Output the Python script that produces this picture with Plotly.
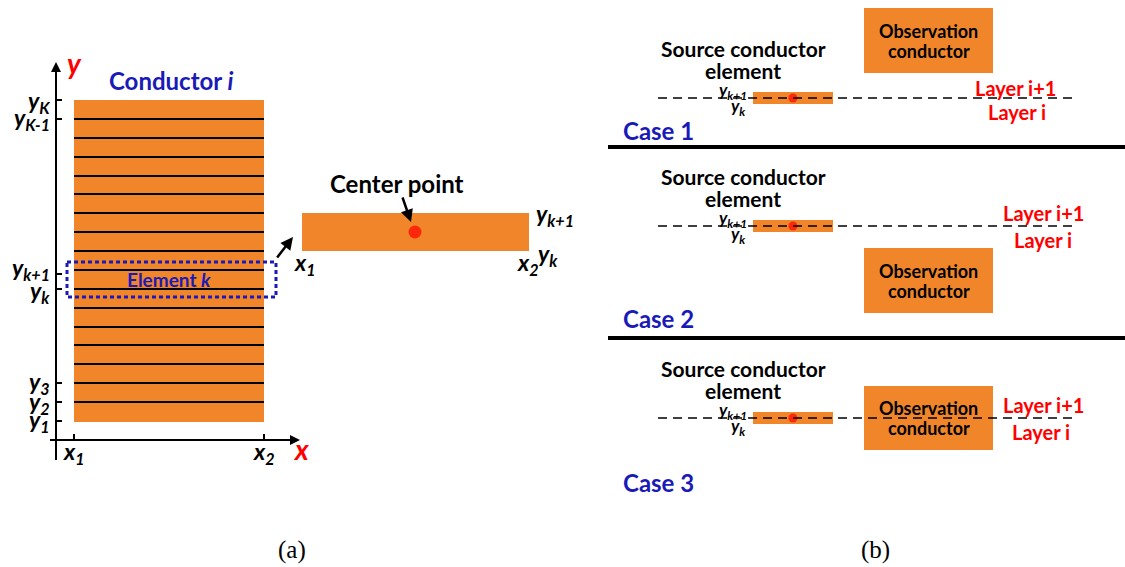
import plotly.graph_objects as go

# ---------------- data (pixel-space diagram) ----------------
# Panel (a)
conductor_x = [74, 264]
conductor_y = [100, 422]
element_lines_y = [119, 138, 157, 176, 194, 213, 232, 251, 270, 289, 308, 327, 345, 364, 383, 402]
y_tick_pos = [100, 119, 274, 289, 383, 402, 421]
y_tick_text = ["y<sub>K</sub>", "y<sub>K-1</sub>", "y<sub>k+1</sub>", "y<sub>k</sub>",
               "y<sub>3</sub>", "y<sub>2</sub>", "y<sub>1</sub>"]
y_tick_label_y = [101, 118, 268, 291, 382, 402, 420]
x_tick_pos = [74, 264]
x_tick_text = ["x<sub>1</sub>", "x<sub>2</sub>"]
element_box_x = [67, 276]
element_box_y = [262, 297]
zoom_elem_x = [302, 529]
zoom_elem_y = [213, 251]
center_point = [415, 232]

# Panel (b)
case_names = ["Case 1", "Case 2", "Case 3"]
case_label_y = [130, 318, 482]
dash_y = [98, 226, 418]
source_text_y = [48, 176, 368]
obs_x = [864, 993]
obs_y0 = [8, 248, 386]
obs_y1 = [73, 313, 450]
layer_up_xy = [(1015, 88), (1043, 213), (1043, 405)]
layer_dn_xy = [(1017, 112), (1043, 240), (1041, 432)]
separator_y = [147, 338]
source_x = [753, 833]
source_dot_x = 793

ORANGE = "#F0852A"
BLUE = "#1A1AB8"
RED = "#FF0000"
FONT = "Lato"

fig = go.Figure()
shapes = []
ann = []

def text(x, y, s, size, color="black", xanchor="center", yanchor="middle", family=FONT):
    ann.append(dict(x=x, y=y, text=s, showarrow=False, xanchor=xanchor, yanchor=yanchor,
                    font=dict(size=size, color=color, family=family)))

# ---- panel (a) ----
shapes.append(dict(type="rect", x0=conductor_x[0], x1=conductor_x[1], y0=conductor_y[0], y1=conductor_y[1],
                   fillcolor=ORANGE, line=dict(width=0), layer="below"))
for yy in element_lines_y:
    shapes.append(dict(type="line", x0=conductor_x[0], x1=conductor_x[1], y0=yy, y1=yy,
                       line=dict(color="black", width=2)))
# axes
shapes.append(dict(type="line", x0=56, x1=56, y0=460, y1=70, line=dict(color="black", width=2)))
shapes.append(dict(type="line", x0=50, x1=292, y0=440, y1=440, line=dict(color="black", width=2)))
ann.append(dict(x=56, y=62, ax=56, ay=80, axref="x", ayref="y", text="", showarrow=True,
                arrowhead=2, arrowsize=1, arrowwidth=2, arrowcolor="black"))
ann.append(dict(x=300, y=440, ax=280, ay=440, axref="x", ayref="y", text="", showarrow=True,
                arrowhead=2, arrowsize=1, arrowwidth=2, arrowcolor="black"))
for yy in y_tick_pos:
    shapes.append(dict(type="line", x0=56, x1=62, y0=yy, y1=yy, line=dict(color="black", width=2)))
for xx in x_tick_pos:
    shapes.append(dict(type="line", x0=xx, x1=xx, y0=434, y1=440, line=dict(color="black", width=2)))
for yy, s in zip(y_tick_label_y, y_tick_text):
    text(52, yy, "<b><i>" + s + "</i></b>", 23, xanchor="right")
for xx, s in zip(x_tick_pos, x_tick_text):
    text(xx, 452, "<b><i>" + s + "</i></b>", 23)
text(74, 63, "<b><i>y</i></b>", 28, color=RED)
text(301, 449, "<b><i>x</i></b>", 28, color=RED)
text(171, 80, "<b>Conductor <i>i</i></b>", 24, color=BLUE)
shapes.append(dict(type="rect", x0=element_box_x[0], x1=element_box_x[1], y0=element_box_y[0], y1=element_box_y[1],
                   line=dict(color=BLUE, width=3, dash="4px,3px")))
text(169, 279, "<b>Element <i>k</i></b>", 19, color=BLUE)
ann.append(dict(x=293, y=237, ax=276, ay=259, axref="x", ayref="y", text="", showarrow=True,
                arrowhead=2, arrowsize=1, arrowwidth=2.5, arrowcolor="black"))

# zoomed element
shapes.append(dict(type="rect", x0=zoom_elem_x[0], x1=zoom_elem_x[1], y0=zoom_elem_y[0], y1=zoom_elem_y[1],
                   fillcolor=ORANGE, line=dict(width=0), layer="below"))
text(397, 183, "<b>Center point</b>", 24)
ann.append(dict(x=411, y=222, ax=402, ay=196, axref="x", ayref="y", text="", showarrow=True,
                arrowhead=2, arrowsize=1, arrowwidth=2.5, arrowcolor="black"))
text(305, 263, "<b><i>x<sub>1</sub></i></b>", 23)
text(528, 263, "<b><i>x<sub>2</sub></i></b>", 23)
text(534, 214, "<b><i>y<sub>k+1</sub></i></b>", 23, xanchor="left")
text(536, 254, "<b><i>y<sub>k</sub></i></b>", 23, xanchor="left")

dots_x = [center_point[0]]
dots_y = [center_point[1]]
dots_size = [13]

# ---- panel (b) ----
for i in range(3):
    dy = dash_y[i]
    shapes.append(dict(type="rect", x0=obs_x[0], x1=obs_x[1], y0=obs_y0[i], y1=obs_y1[i],
                       fillcolor=ORANGE, line=dict(width=0), layer="below"))
    cy = (obs_y0[i] + obs_y1[i]) / 2
    cx = (obs_x[0] + obs_x[1]) / 2
    text(cx, cy - 10, "<b>Observation</b>", 18)
    text(cx, cy + 10, "<b>conductor</b>", 18)
    shapes.append(dict(type="rect", x0=source_x[0], x1=source_x[1], y0=dy - 6, y1=dy + 6,
                       fillcolor=ORANGE, line=dict(width=0), layer="below"))
    shapes.append(dict(type="line", x0=658, x1=1073, y0=dy, y1=dy,
                       line=dict(color="black", width=1.3, dash="9px,6px")))
    text(743, source_text_y[i], "<b>Source conductor</b>", 21)
    text(743, source_text_y[i] + 22, "<b>element</b>", 21)
    text(733, dy - 7, "<b><i>y<sub>k+1</sub></i></b>", 17)
    text(738, dy + 9, "<b><i>y<sub>k</sub></i></b>", 17)
    text(layer_up_xy[i][0], layer_up_xy[i][1], "<b>Layer i+1</b>", 20, color=RED)
    text(layer_dn_xy[i][0], layer_dn_xy[i][1], "<b>Layer i</b>", 20, color=RED)
    text(621, case_label_y[i], "<b>" + case_names[i] + "</b>", 24, color=BLUE, xanchor="left")
    dots_x.append(source_dot_x)
    dots_y.append(dy)
    dots_size.append(9)

for sy in separator_y:
    shapes.append(dict(type="line", x0=608, x1=1125, y0=sy, y1=sy, line=dict(color="black", width=4)))

fig.add_trace(go.Scatter(x=dots_x, y=dots_y, mode="markers",
                         marker=dict(color=RED, size=dots_size, line=dict(width=0)),
                         hoverinfo="skip", showlegend=False))

text(292, 550, "(a)", 25, family="Liberation Serif")
text(875, 550, "(b)", 25, family="Liberation Serif")

fig.update_layout(width=1125, height=567, margin=dict(l=0, r=0, t=0, b=0),
                  paper_bgcolor="white", plot_bgcolor="white",
                  shapes=shapes, annotations=ann, showlegend=False,
                  xaxis=dict(range=[0, 1125], visible=False, fixedrange=True),
                  yaxis=dict(range=[567, 0], visible=False, fixedrange=True))
fig.write_html("out.html", config={"displayModeBar": False},
               post_script="document.body.style.margin='0px';document.body.style.overflow='hidden';")
